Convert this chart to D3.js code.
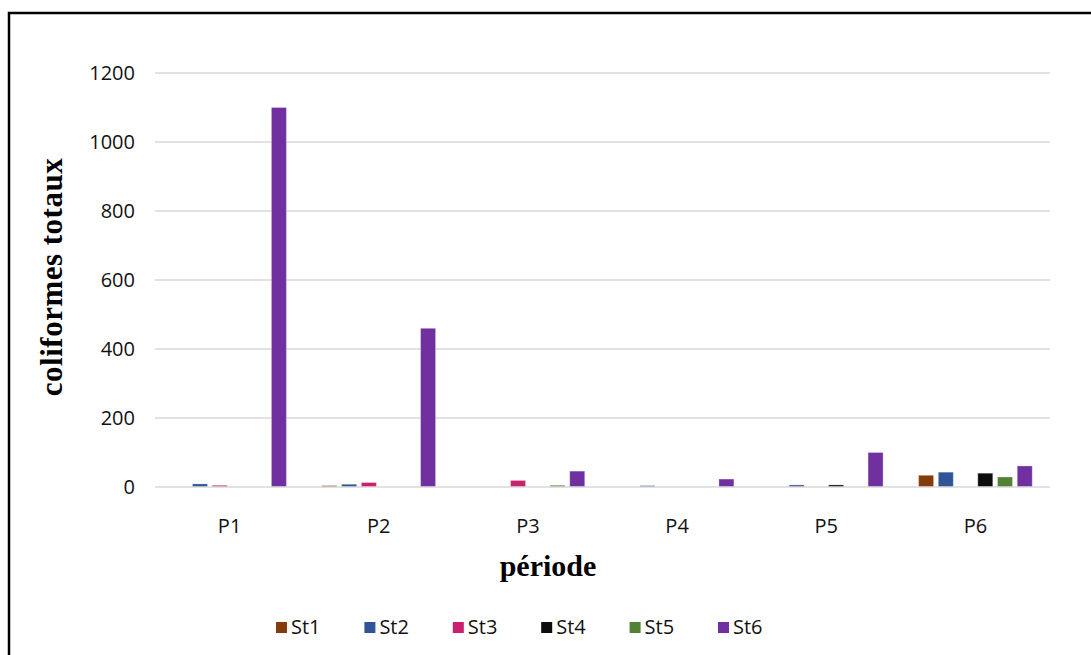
<!DOCTYPE html>
<html lang="fr">
<head>
<meta charset="UTF-8">
<title>coliformes totaux</title>
<script src="https://cdn.jsdelivr.net/npm/d3@7"></script>
<style>
    body { margin: 0; background: #fff; }
    .tick text { font-family: "Open Sans", sans-serif; font-size: 20px; fill: #111; }
</style>
</head>
<body>
<svg id="chart" width="1091" height="655"></svg>
<script>
    // données
    const periodes = ['P1','P2','P3','P4','P5','P6'];
    const stations = ['St1','St2','St3','St4','St5','St6'];
    const couleurs = ['#843c0c','#2f5597','#c9216e','#0d0d0d','#548235','#7030a0'];
    const St1 = [0, 4, 0, 0, 0, 34];
    const St2 = [9, 8, 0, 4, 6, 43];
    const St3 = [5, 13, 19, 0, 0, 0];
    const St4 = [0, 0, 0, 0, 6, 40];
    const St5 = [0, 0, 5, 0, 0, 29];
    const St6 = [1100, 460, 46, 23, 100, 61];
    const yTicks = [0, 200, 400, 600, 800, 1000, 1200];

    const series = [St1, St2, St3, St4, St5, St6];
    const svg = d3.select('#chart');

    // cadre
    svg.append('path').attr('d','M9,655 V13 H1091')
        .attr('fill','none').attr('stroke','#000').attr('stroke-width',2.5);

    const x0 = d3.scaleBand().domain(periodes).range([155, 1050]),
        x1 = d3.scaleBand().domain(stations).range([0, x0.bandwidth()])
            .paddingInner(0.24).paddingOuter(0.9),
        y = d3.scaleLinear().domain([0, 1200]).range([487, 73]);

    // grille
    svg.append('g').selectAll('line').data(yTicks.slice(1)).enter().append('line')
        .attr('x1',155).attr('x2',1050)
        .attr('y1',d=>y(d)).attr('y2',d=>y(d))
        .attr('stroke','#d9d9d9').attr('stroke-width',1.3);

    // axe y
    const gy = svg.append('g').attr('transform','translate(155,0)')
        .call(d3.axisLeft(y).tickValues(yTicks).tickFormat(d3.format('d')).tickSize(0).tickPadding(20));
    gy.select('.domain').remove();

    // barres
    const data = [];
    periodes.forEach((p,i)=>{
        stations.forEach((s,j)=>{
            data.push({p:p, s:s, v:series[j][i], c:couleurs[j]});
        })
    })
    svg.append('g').selectAll('rect').data(data.filter(d=>d.v>0)).enter().append('rect')
        .attr('x',d=>x0(d.p)+x1(d.s))
        .attr('y',d=>y(d.v))
        .attr('width',x1.bandwidth())
        .attr('height',d=>y(0)-y(d.v))
        .attr('fill',d=>d.c)
        .attr('stroke','#fff').attr('stroke-opacity',0.3).attr('stroke-width',1);

    // axe x
    svg.append('line').attr('x1',155).attr('x2',1050).attr('y1',y(0)).attr('y2',y(0))
        .attr('stroke','#d9d9d9').attr('stroke-width',1.5);
    const gx = svg.append('g').attr('transform','translate(0,'+y(0)+')')
        .call(d3.axisBottom(x0).tickSize(0).tickPadding(32));
    gx.select('.domain').remove();

    // titres des axes
    svg.append('text').attr('transform','translate(62,277) rotate(-90)')
        .attr('text-anchor','middle')
        .style('font-family','"Liberation Serif", serif').style('font-weight','bold')
        .style('font-size','31px').style('letter-spacing','0.5px')
        .text('coliformes totaux');
    svg.append('text').attr('x',548).attr('y',576)
        .attr('text-anchor','middle')
        .style('font-family','"Liberation Serif", serif').style('font-weight','bold').style('font-size','30px')
        .text('période');

    // légende
    const leg = svg.append('g').selectAll('g').data(stations).enter().append('g')
        .attr('transform',(d,i)=>'translate('+(276+i*88.4)+',622)');
    leg.append('rect').attr('width',11).attr('height',11).attr('fill',(d,i)=>couleurs[i]);
    leg.append('text').attr('x',15).attr('y',12)
        .style('font-family','"Open Sans", sans-serif').style('font-size','20px').attr('fill','#111')
        .text(d=>d);
</script>
</body>
</html>
